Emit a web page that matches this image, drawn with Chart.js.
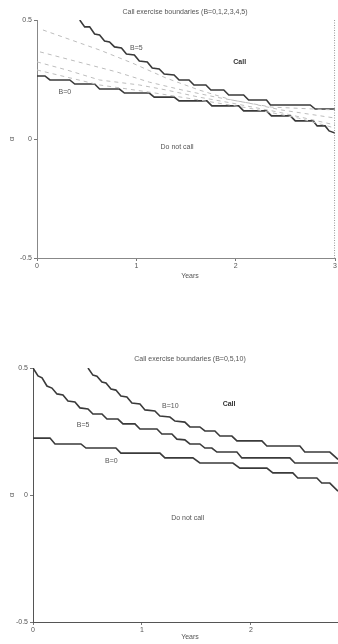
<!DOCTYPE html>
<html>
<head>
<meta charset="utf-8">
<script src="https://cdn.jsdelivr.net/npm/chart.js@4.4.0/dist/chart.umd.min.js"></script>
<style>
  html, body { margin: 0; padding: 0; background: #fff; }
  body { width: 338px; height: 644px; position: relative; overflow: hidden; }
  .box { position: absolute; left: 0; width: 338px; }
</style>
</head>
<body>
<div class="box" style="top:0;height:290px"><canvas id="top"></canvas></div>
<div class="box" style="top:330px;height:314px"><canvas id="bottom"></canvas></div>
<script>
// ---- top chart: B = 0..5 ----
var topB0Years = [0, 0.08, 0.13, 0.33, 0.38, 0.58, 0.63, 0.83, 0.88, 1.13, 1.18, 1.38, 1.43, 1.71, 1.76, 2.03, 2.08, 2.31, 2.36, 2.55, 2.60, 2.78, 2.82, 2.90, 2.94, 3.0];
var topB0Alpha = [0.265, 0.265, 0.248, 0.248, 0.231, 0.231, 0.210, 0.210, 0.193, 0.193, 0.176, 0.176, 0.160, 0.160, 0.139, 0.139, 0.118, 0.118, 0.097, 0.097, 0.076, 0.076, 0.055, 0.055, 0.034, 0.025];

var topB1Years = [0, 0.63, 1.13, 1.63, 2.13, 2.63, 3.0];
var topB1Alpha = [0.290, 0.227, 0.197, 0.164, 0.130, 0.088, 0.046];

var topB2Years = [0, 0.30, 0.63, 1.03, 1.30, 1.63, 1.96, 2.43, 3.0];
var topB2Alpha = [0.324, 0.290, 0.248, 0.227, 0.206, 0.176, 0.151, 0.113, 0.059];

var topB3Years = [0.03, 0.46, 0.80, 1.13, 1.46, 1.80, 2.13, 2.46, 3.0];
var topB3Alpha = [0.366, 0.319, 0.282, 0.239, 0.206, 0.176, 0.151, 0.122, 0.088];

var topB4Years = [0.06, 0.63, 0.96, 1.30, 1.63, 1.96, 2.36, 3.0];
var topB4Alpha = [0.458, 0.374, 0.319, 0.256, 0.206, 0.164, 0.134, 0.122];

var topB5Years = [0.43, 0.48, 0.53, 0.58, 0.63, 0.68, 0.73, 0.78, 0.85, 0.90, 0.98, 1.03, 1.11, 1.16, 1.23, 1.28, 1.38, 1.43, 1.53, 1.58, 1.70, 1.75, 1.88, 1.93, 2.08, 2.13, 2.31, 2.35, 2.75, 2.80, 3.0];
var topB5Alpha = [0.5, 0.471, 0.471, 0.441, 0.437, 0.412, 0.408, 0.387, 0.382, 0.357, 0.353, 0.328, 0.324, 0.298, 0.294, 0.273, 0.269, 0.248, 0.248, 0.227, 0.227, 0.206, 0.206, 0.185, 0.185, 0.164, 0.164, 0.143, 0.143, 0.126, 0.126];

// ---- bottom chart: B = 0, 5, 10 ----
var botB0Years = [0, 0.156, 0.202, 0.440, 0.486, 0.761, 0.807, 1.165, 1.211, 1.468, 1.532, 1.835, 1.899, 2.147, 2.202, 2.385, 2.431, 2.606, 2.651, 2.725, 2.8];
var botB0Alpha = [0.224, 0.224, 0.201, 0.201, 0.185, 0.185, 0.165, 0.165, 0.146, 0.146, 0.126, 0.126, 0.106, 0.106, 0.087, 0.087, 0.067, 0.067, 0.047, 0.047, 0.015];

var botB5Years = [0, 0.046, 0.083, 0.128, 0.174, 0.220, 0.275, 0.321, 0.385, 0.431, 0.505, 0.550, 0.633, 0.679, 0.780, 0.826, 0.936, 0.982, 1.138, 1.183, 1.275, 1.321, 1.394, 1.440, 1.532, 1.578, 1.642, 1.688, 1.872, 1.917, 2.358, 2.404, 2.8];
var botB5Alpha = [0.5, 0.469, 0.461, 0.429, 0.421, 0.398, 0.394, 0.370, 0.366, 0.343, 0.339, 0.319, 0.319, 0.299, 0.299, 0.280, 0.280, 0.260, 0.260, 0.240, 0.240, 0.220, 0.217, 0.201, 0.201, 0.185, 0.185, 0.169, 0.169, 0.146, 0.146, 0.126, 0.126];

var botB10Years = [0.505, 0.550, 0.587, 0.633, 0.670, 0.716, 0.761, 0.807, 0.862, 0.908, 0.982, 1.028, 1.119, 1.165, 1.257, 1.303, 1.394, 1.440, 1.532, 1.578, 1.670, 1.716, 1.826, 1.872, 2.101, 2.147, 2.450, 2.495, 2.725, 2.8];
var botB10Alpha = [0.5, 0.472, 0.468, 0.445, 0.441, 0.417, 0.413, 0.390, 0.386, 0.362, 0.358, 0.335, 0.331, 0.311, 0.307, 0.291, 0.287, 0.268, 0.268, 0.252, 0.252, 0.232, 0.232, 0.213, 0.213, 0.193, 0.193, 0.169, 0.169, 0.140];

var alphaTicks = [-0.5, 0, 0.5];
var yearTicks = [0, 1, 2, 3];

var FONT = '"Liberation Sans", Arial, sans-serif';
var INK = '#3a3a3a';
var TXT = '#555';

var zip = function (xs, ys) {
    return xs.map(function (x, i) { return { x: x, y: ys[i] }; });
};

var solid = function (xs, ys) {
    return { data: zip(xs, ys), borderColor: INK, borderWidth: 1.6, pointRadius: 0, tension: 0 };
};
var faint = function (xs, ys) {
    return { data: zip(xs, ys), borderColor: '#bdbdbd', borderWidth: 1, borderDash: [4, 4], pointRadius: 0, tension: 0 };
};

// text drawn in data coordinates + title / axis names
var textPlugin = function (title, titleX, titleY, yearsY, notes, frameRight) {
    return {
        id: 'texts',
        afterDraw: function (chart) {
            var c = chart.ctx, xs = chart.scales.x, ys = chart.scales.y, a = chart.chartArea;
            c.save();
            c.fillStyle = TXT;
            c.textAlign = 'center';
            c.textBaseline = 'middle';
            c.font = '7px ' + FONT;
            c.fillText(title, titleX, titleY);
            c.fillText('Years', 190, yearsY);
            notes.forEach(function (n) {
                c.font = (n.bold ? 'bold ' : '') + '7px ' + FONT;
                c.fillStyle = n.bold ? '#333' : TXT;
                c.fillText(n.t, xs.getPixelForValue(n.x), ys.getPixelForValue(n.y));
            });
            c.fillStyle = TXT;
            c.font = '8px ' + FONT;
            c.translate(12, ys.getPixelForValue(0));
            c.rotate(-Math.PI / 2);
            c.fillText('α', 0, 0);
            c.restore();
            if (frameRight) {
                c.save();
                c.strokeStyle = '#999';
                c.lineWidth = 1;
                c.setLineDash([1, 1.5]);
                c.beginPath();
                c.moveTo(a.right - 0.5, a.top);
                c.lineTo(a.right - 0.5, a.bottom);
                c.stroke();
                c.restore();
            }
        }
    };
};

var makeScales = function (xMax, yWidth, xHeight, dotted) {
    var border = dotted ? { color: '#888', width: 1, dash: [1, 1.5] } : { color: '#555', width: 1 };
    return {
        x: {
            type: 'linear', min: 0, max: xMax,
            afterBuildTicks: function (s) {
                s.ticks = yearTicks.filter(function (v) { return v <= xMax; }).map(function (v) { return { value: v }; });
            },
            afterFit: function (s) { s.height = xHeight; },
            grid: { drawOnChartArea: false, tickLength: 3, color: '#777' },
            border: border,
            ticks: { font: { family: FONT, size: 7 }, color: TXT, padding: 1, maxRotation: 0, autoSkip: false }
        },
        y: {
            type: 'linear', min: -0.5, max: 0.5,
            afterBuildTicks: function (s) {
                s.ticks = alphaTicks.map(function (v) { return { value: v }; });
            },
            afterFit: function (s) { s.width = yWidth; },
            grid: { drawOnChartArea: false, tickLength: 3, color: '#777' },
            border: border,
            ticks: { font: { family: FONT, size: 7 }, color: TXT, padding: 2 }
        }
    };
};

new Chart(document.getElementById('top'), {
    type: 'line',
    data: {
        datasets: [
            faint(topB1Years, topB1Alpha),
            faint(topB2Years, topB2Alpha),
            faint(topB3Years, topB3Alpha),
            faint(topB4Years, topB4Alpha),
            solid(topB0Years, topB0Alpha),
            solid(topB5Years, topB5Alpha)
        ]
    },
    options: {
        responsive: true,
        maintainAspectRatio: false,
        animation: false,
        layout: { padding: { top: 20, right: 1, left: 0, bottom: 0 } },
        plugins: { legend: { display: false }, tooltip: { enabled: false } },
        scales: makeScales(3, 37, 32, true)
    },
    plugins: [textPlugin('Call exercise boundaries (B=0,1,2,3,4,5)', 185, 12, 276, [
        { t: 'B=5', x: 1.0, y: 0.38 },
        { t: 'Call', x: 2.04, y: 0.324, bold: true },
        { t: 'B=0', x: 0.28, y: 0.197 },
        { t: 'Do not call', x: 1.41, y: -0.034 }
    ], true)]
});

new Chart(document.getElementById('bottom'), {
    type: 'line',
    data: {
        datasets: [
            solid(botB0Years, botB0Alpha),
            solid(botB5Years, botB5Alpha),
            solid(botB10Years, botB10Alpha)
        ]
    },
    options: {
        responsive: true,
        maintainAspectRatio: false,
        animation: false,
        layout: { padding: { top: 38, right: 0, left: 0, bottom: 0 } },
        plugins: { legend: { display: false }, tooltip: { enabled: false } },
        scales: makeScales(2.8, 33, 22, false)
    },
    plugins: [textPlugin('Call exercise boundaries (B=0,5,10)', 190, 29, 307, [
        { t: 'B=10', x: 1.26, y: 0.35 },
        { t: 'Call', x: 1.80, y: 0.358, bold: true },
        { t: 'B=5', x: 0.46, y: 0.276 },
        { t: 'B=0', x: 0.72, y: 0.134 },
        { t: 'Do not call', x: 1.42, y: -0.091 }
    ], false)]
});
</script>
</body>
</html>
